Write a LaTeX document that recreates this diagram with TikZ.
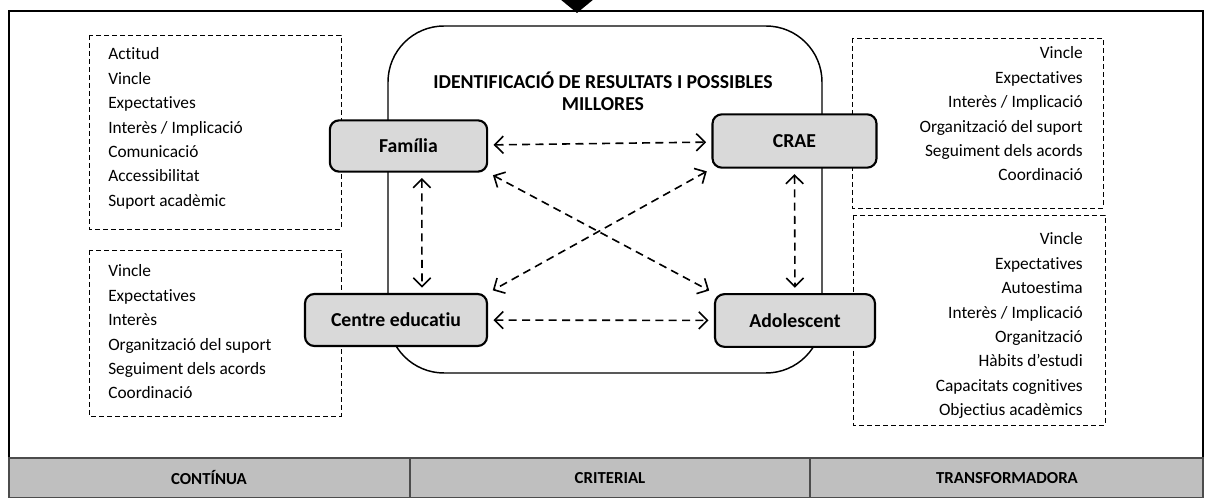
\documentclass[tikz,border=0pt]{standalone}
\usepackage{fontspec}
\setmainfont{Carlito}[Ligatures={NoCommon,NoContextual},Contextuals={NoAlternate}]
\usetikzlibrary{arrows.meta}
\definecolor{boxgray}{HTML}{D9D9D9}
\definecolor{bandgray}{HTML}{BFBFBF}
\begin{document}
\begin{tikzpicture}[x=0.75pt,y=-0.75pt,
  actor/.style={draw=black,line width=1.6pt,fill=boxgray,rounded corners=7pt,
    inner sep=0pt,font=\fontsize{14.8}{17}\selectfont\bfseries},
  conn/.style={line width=1.2pt,dash pattern=on 6pt off 4pt,
    {Straight Barb[length=6.5pt,width=13pt]}-{Straight Barb[length=6.5pt,width=13pt]},
    shorten <=4pt,shorten >=4pt},
  dbox/.style={draw=black,line width=0.7pt,dash pattern=on 3.5pt off 2.5pt},
  item/.style={font=\fontsize{13}{15}\selectfont,inner sep=0pt},
  band/.style={font=\fontsize{12.6}{14}\selectfont\bfseries,inner sep=0pt}]
\useasboundingbox (0,0) rectangle (1208,498);
% outer frame
\draw[line width=1.6pt] (9,498) -- (9,11) -- (1203,11) -- (1203,498);
\fill (560,-1) -- (594,-1) -- (577,13) -- cycle;
% bottom band
\draw[fill=bandgray,draw=black!70,line width=1pt] (9,458) rectangle (1203,498);
\draw[draw=black!70,line width=1pt] (410,458) -- (410,498) (810,458) -- (810,498);
\node[band] (b1) at (209,478) {CONTÍNUA};
\node[band] (b2) at (610,478) {CRITERIAL};
\node[band] (b3) at (1007,478) {TRANSFORMADORA};
% central rounded box
\draw[line width=1.1pt,rounded corners=42pt] (388,26) rectangle (822,373);
\node[font=\fontsize{14.8}{16.5}\selectfont\bfseries,align=center,inner sep=0pt] (title) at (603,91)
  {IDENTIFICACIÓ DE RESULTATS I POSSIBLES\\MILLORES};
% dashed boxes
\draw[dbox] (89,35) rectangle (341,229);
\draw[dbox] (89,250) rectangle (341,416);
\draw[dbox] (852,38) rectangle (1103,208);
\draw[dbox] (853,215) rectangle (1105,425);
% left top items
\foreach \t [count=\i from 0] in {Actitud,Vincle,Expectatives,Interès / Implicació,Comunicació,Accessibilitat,Suport acadèmic}
  \node[item,anchor=west] (lt\i) at (108,56+24.4*\i) {\strut\t};
% left bottom items
\foreach \t [count=\i from 0] in {Vincle,Expectatives,Interès,Organització del suport,Seguiment dels acords,Coordinació}
  \node[item,anchor=west] (lb\i) at (108,273+24.4*\i) {\strut\t};
% right top items
\foreach \t [count=\i from 0] in {Vincle,Expectatives,Interès / Implicació,Organització del suport,Seguiment dels acords,Coordinació}
  \node[item,anchor=east] (rt\i) at (1083,55+24.4*\i) {\strut\t};
% right bottom items
\foreach \t [count=\i from 0] in {Vincle,Expectatives,Autoestima,Interès / Implicació,Organització,Hàbits d’estudi,Capacitats cognitives,Objectius acadèmics}
  \node[item,anchor=east] (rb\i) at (1083,241+24.4*\i) {\strut\t};
% actors
\node[actor,minimum width=118pt,minimum height=38.5pt] (fam) at (408.5,146) {Família};
\node[actor,minimum width=123pt,minimum height=40pt] (crae) at (794.5,141) {CRAE};
\node[actor,minimum width=136.5pt,minimum height=39pt] (cen) at (396,320) {Centre educatiu};
\node[actor,minimum width=120pt,minimum height=39.5pt] (ado) at (795,320.5) {Adolescent};
% connectors
\draw[conn] (fam) -- (crae);
\draw[conn] (cen) -- (ado);
\draw[conn] ([xshift=10pt]fam.south) -- ([xshift=19.5pt]cen.north);
\draw[conn] (crae.south) -- (ado.north);
\draw[conn] (fam.south east) -- (ado.north west);
\draw[conn] (crae.south west) -- (cen.north east);
\end{tikzpicture}
\end{document}
